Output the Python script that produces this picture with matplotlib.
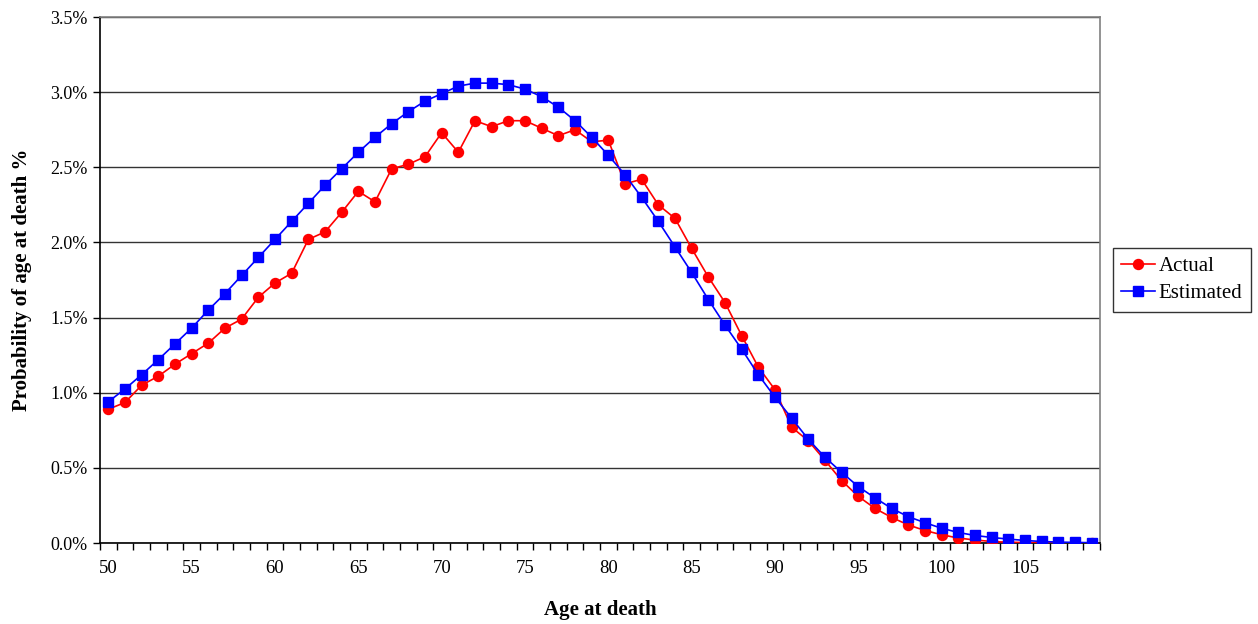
import numpy as np
import matplotlib
matplotlib.use("Agg")
from matplotlib import pyplot as plt
from matplotlib.ticker import FixedLocator, FuncFormatter

# -----------------------------------------------
# DATA (probability of age at death, in %)

ages = list(range(50, 110))

actual = [0.89, 0.935, 1.05, 1.11, 1.19, 1.26, 1.33, 1.43, 1.49, 1.635,
          1.73, 1.795, 2.02, 2.07, 2.20, 2.34, 2.27, 2.49, 2.52, 2.57,
          2.73, 2.60, 2.81, 2.77, 2.81, 2.81, 2.76, 2.71, 2.75, 2.67,
          2.68, 2.39, 2.42, 2.25, 2.16, 1.96, 1.77, 1.60, 1.38, 1.17,
          1.02, 0.77, 0.68, 0.55, 0.415, 0.31, 0.23, 0.17, 0.12, 0.083,
          0.055, 0.033, 0.02, 0.01, 0.005, 0.003, 0.002, 0.001, 0.001, 0.0]

estimated = [0.94, 1.025, 1.12, 1.22, 1.325, 1.43, 1.55, 1.66, 1.78, 1.90,
             2.02, 2.14, 2.26, 2.38, 2.49, 2.60, 2.70, 2.79, 2.87, 2.94,
             2.99, 3.04, 3.06, 3.06, 3.05, 3.02, 2.97, 2.90, 2.81, 2.70,
             2.58, 2.45, 2.30, 2.14, 1.97, 1.80, 1.62, 1.45, 1.29, 1.12,
             0.97, 0.83, 0.69, 0.57, 0.47, 0.375, 0.30, 0.23, 0.175, 0.135,
             0.098, 0.07, 0.05, 0.037, 0.026, 0.017, 0.01, 0.006, 0.004, 0.002]

y_ticks = [0.0, 0.5, 1.0, 1.5, 2.0, 2.5, 3.0, 3.5]

# -----------------------------------------------
# PLOT

plt.rcParams['font.family'] = ['Liberation Serif', 'DejaVu Serif']

fig = plt.figure(figsize=(12.58, 6.24), dpi=100)
ax = fig.add_axes([100 / 1258, 81 / 624, 1000 / 1258, 526 / 624])

pos = np.arange(len(ages))
ax.plot(pos, actual, color='#ff0000', lw=1.2, marker='o', ms=7.2,
        label='Actual', zorder=3)
ax.plot(pos, estimated, color='#0000ff', lw=1.2, marker='s', ms=6.8,
        label='Estimated', zorder=3)

ax.set_xlim(-0.5, len(ages) - 0.5)
ax.set_ylim(0, 3.5)

# y axis: gridlines + percent labels
ax.set_yticks(y_ticks)
ax.yaxis.set_major_formatter(FuncFormatter(lambda v, p: '%.1f%%' % v))
ax.grid(axis='y', color='#333333', lw=1.0, zorder=1)

# x axis: tick marks between categories, labels every 5 years
ax.xaxis.set_major_locator(FixedLocator(np.arange(-0.5, len(ages), 1.0)))
ax.xaxis.set_major_formatter(FuncFormatter(lambda v, p: ''))
lab_pos = [i for i, a in enumerate(ages) if a % 5 == 0]
ax.xaxis.set_minor_locator(FixedLocator(lab_pos))
ax.set_xticklabels([str(ages[i]) for i in lab_pos], minor=True)

ax.tick_params(axis='x', which='major', direction='out', length=5, width=1,
               color='black')
ax.tick_params(axis='x', which='minor', length=0, pad=12, labelsize=13.5)
ax.tick_params(axis='y', direction='out', length=5, width=1, labelsize=13,
               pad=4)

for side in ['left', 'bottom']:
  ax.spines[side].set_color('black')
  ax.spines[side].set_linewidth(1.2)
for side in ['top', 'right']:
  ax.spines[side].set_color('#808080')
  ax.spines[side].set_linewidth(1.2)

ax.set_xlabel('Age at death', fontsize=15, fontweight='bold', labelpad=17)
ax.set_ylabel('Probability of age at death %', fontsize=15, fontweight='bold',
              labelpad=13)

leg = fig.legend(loc='center left', bbox_to_anchor=(1113 / 1258, 344 / 624),
                 fontsize=15, frameon=True, fancybox=False, edgecolor='black',
                 handlelength=1.6, handletextpad=0.2, borderpad=0.4,
                 labelspacing=0.35, borderaxespad=0)
leg.get_frame().set_linewidth(1.0)

fig.savefig('out.png', dpi=100)
